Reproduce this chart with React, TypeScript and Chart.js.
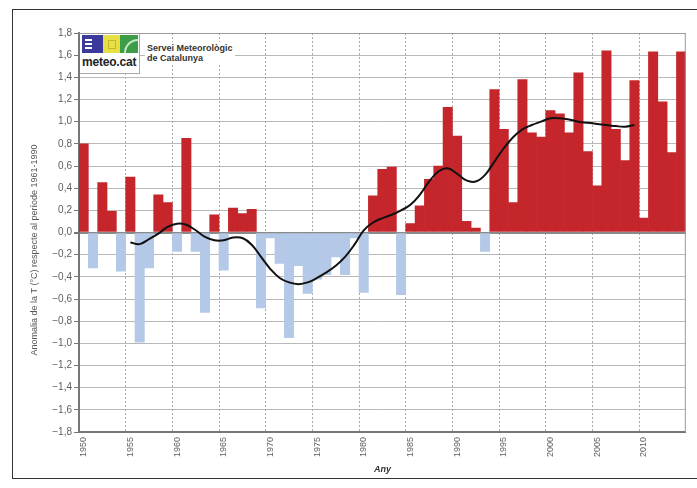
import React, { useEffect, useRef } from 'react';
import { Chart, registerables } from 'chart.js';

Chart.register(...registerables);

const years: string[] = [
  '1950','1951','1952','1953','1954','1955','1956','1957','1958','1959',
  '1960','1961','1962','1963','1964','1965','1966','1967','1968','1969',
  '1970','1971','1972','1973','1974','1975','1976','1977','1978','1979',
  '1980','1981','1982','1983','1984','1985','1986','1987','1988','1989',
  '1990','1991','1992','1993','1994','1995','1996','1997','1998','1999',
  '2000','2001','2002','2003','2004','2005','2006','2007','2008','2009',
  '2010','2011','2012','2013','2014',
];

const anomalies: number[] = [
  0.80, -0.32, 0.45, 0.19, -0.35, 0.50, -0.99, -0.32, 0.34, 0.27,
  -0.17, 0.85, -0.17, -0.72, 0.16, -0.34, 0.22, 0.17, 0.21, -0.68,
  -0.05, -0.28, -0.95, -0.30, -0.55, -0.42, -0.38, -0.22, -0.38, -0.05,
  -0.54, 0.33, 0.57, 0.59, -0.56, 0.08, 0.24, 0.48, 0.60, 1.13,
  0.87, 0.10, 0.04, -0.17, 1.29, 0.93, 0.27, 1.38, 0.90, 0.86,
  1.10, 1.07, 0.90, 1.44, 0.73, 0.42, 1.64, 0.93, 0.65, 1.37,
  0.13, 1.63, 1.18, 0.72, 1.63,
];

const smoothed: (number | null)[] = [
  null, null, null, null, null, -0.09, -0.105, -0.06, -0.01, 0.05,
  0.08, 0.07, 0.02, -0.04, -0.07, -0.07, -0.045, -0.05, -0.11, -0.22,
  -0.33, -0.41, -0.45, -0.466, -0.45, -0.41, -0.36, -0.30, -0.22, -0.11,
  0.02, 0.09, 0.13, 0.16, 0.20, 0.25, 0.34, 0.46, 0.55, 0.58,
  0.53, 0.47, 0.46, 0.52, 0.64, 0.76, 0.86, 0.93, 0.97, 1.00,
  1.03, 1.03, 1.02, 1.00, 0.99, 0.98, 0.97, 0.96, 0.955, 0.97,
  null, null, null, null, null,
];

const yTitle = 'Anomalia de la T (°C) respecte al període 1961-1990';
const xTitle = 'Any';

const RED = '#c4262b';
const BLUE = '#b3c9e7';
const FONT = '"Liberation Sans", Arial, sans-serif';

const framePlugin = {
  id: 'frame',
  beforeDraw(chart: any) {
    const { ctx, width, height } = chart;
    ctx.save();
    ctx.fillStyle = '#ffffff';
    ctx.fillRect(0, 0, width, height);
    ctx.restore();
  },
  afterDraw(chart: any) {
    const { ctx, chartArea: a } = chart;
    ctx.save();
    ctx.strokeStyle = '#9a9a9a';
    ctx.lineWidth = 1;
    ctx.beginPath();
    ctx.moveTo(a.left, a.top + 0.5);
    ctx.lineTo(a.right, a.top + 0.5);
    ctx.moveTo(a.right - 0.5, a.top);
    ctx.lineTo(a.right - 0.5, a.bottom);
    ctx.stroke();
    ctx.translate(35, 250);
    ctx.rotate(-Math.PI / 2);
    ctx.font = '9px ' + FONT;
    ctx.fillStyle = '#555555';
    ctx.textAlign = 'center';
    ctx.textBaseline = 'middle';
    ctx.fillText(yTitle, 0, 0);
    ctx.restore();
  },
};

export default function App() {
  const ref = useRef<HTMLCanvasElement | null>(null);

  useEffect(() => {
    if (!ref.current) return;
    const chart = new Chart(ref.current, {
      type: 'bar',
      data: {
        labels: years,
        datasets: [
          {
            type: 'line' as any,
            data: smoothed as any,
            borderColor: '#111111',
            borderWidth: 2,
            pointRadius: 0,
            tension: 0.4,
            fill: false,
            spanGaps: false,
            order: 0,
          } as any,
          {
            type: 'bar',
            data: anomalies,
            backgroundColor: anomalies.map((v) => (v >= 0 ? RED : BLUE)),
            borderWidth: 0,
            barPercentage: 1,
            categoryPercentage: 1,
            order: 1,
          },
        ],
      },
      options: {
        responsive: false,
        animation: false,
        devicePixelRatio: 1,
        layout: { padding: { top: 33, right: 9, left: 0, bottom: 0 } },
        plugins: {
          legend: { display: false },
          tooltip: { enabled: false },
          title: { display: false },
        },
        scales: {
          x: {
            type: 'category',
            offset: true,
            grid: {
              offset: true,
              drawTicks: false,
              color: (c: any) => (c.index % 5 === 0 ? '#a8a8a8' : 'rgba(0,0,0,0)'),
              lineWidth: 1,
            },
            border: { display: true, color: '#777777', width: 2, dash: [2, 2] },
            ticks: {
              autoSkip: false,
              minRotation: 90,
              maxRotation: 90,
              padding: 5,
              color: '#5e5e5e',
              font: { family: FONT, size: 9 },
              callback: (_v: any, i: number) => (Number(years[i]) % 5 === 0 ? years[i] : ''),
            },
            title: {
              display: true,
              text: xTitle,
              color: '#333333',
              font: { family: FONT, size: 9, style: 'italic', weight: 'bold' },
              padding: { top: 0, bottom: 13 },
            },
            afterFit: (s: any) => {
              s.height = 56;
            },
          },
          y: {
            min: -1.8,
            max: 1.8,
            grid: {
              color: (c: any) =>
                c.tick && Math.abs(c.tick.value) < 1e-6 ? '#8a8a8a' : '#b8b8b8',
              lineWidth: (c: any) => (c.tick && Math.abs(c.tick.value) < 1e-6 ? 2 : 1),
              drawTicks: true,
              tickLength: 5,
              tickColor: '#777777',
            },
            border: { display: true, color: '#777777', width: 2 },
            ticks: {
              stepSize: 0.2,
              padding: 2,
              color: '#5e5e5e',
              font: { family: FONT, size: 10 },
              callback: (v: any) => {
                const n = Math.round(Number(v) * 10) / 10;
                const s = Math.abs(n).toFixed(1).replace('.', ',');
                return n < 0 ? '\u2212' + s : s;
              },
            },
            afterFit: (s: any) => {
              s.width = 79;
            },
          },
        },
      } as any,
      plugins: [framePlugin],
    });
    return () => chart.destroy();
  }, []);

  return (
    <div
      style={{
        position: 'fixed',
        left: 0,
        top: 0,
        width: 697,
        height: 488,
        background: '#ffffff',
        overflow: 'hidden',
      }}
    >
      <canvas ref={ref} width={697} height={488} style={{ position: 'absolute', left: 0, top: 0 }} />
      <div
        style={{
          position: 'absolute',
          left: 12,
          top: 9,
          width: 700,
          height: 470,
          border: '1px solid #333',
          boxSizing: 'border-box',
          pointerEvents: 'none',
        }}
      />
      {/* logo */}
      <div
        style={{
          position: 'absolute',
          left: 80,
          top: 34,
          width: 59,
          height: 39,
          background: '#fff',
          borderRight: '1px solid #aaa',
          borderBottom: '1px solid #aaa',
        }}
      >
        <div style={{ position: 'absolute', left: 2, top: 1, width: 21, height: 18, background: '#3b3a9c' }}>
          <div style={{ position: 'absolute', left: 3, top: 4, width: 7, height: 2, background: '#fff' }} />
          <div style={{ position: 'absolute', left: 3, top: 8, width: 7, height: 2, background: '#fff' }} />
          <div style={{ position: 'absolute', left: 3, top: 12, width: 7, height: 2, background: '#fff' }} />
        </div>
        <div style={{ position: 'absolute', left: 23, top: 1, width: 17, height: 18, background: '#e6df45' }}>
          <div style={{ position: 'absolute', left: 5, top: 5, width: 6, height: 7, border: '1px solid #c9b82a' }} />
        </div>
        <div style={{ position: 'absolute', left: 40, top: 1, width: 18, height: 18, background: '#3c9c48', overflow: 'hidden' }}>
          <div
            style={{
              position: 'absolute',
              left: 4,
              top: 4,
              width: 16,
              height: 16,
              borderTop: '2px solid #bfe8c4',
              borderLeft: '2px solid #bfe8c4',
              borderRadius: '14px 0 0 0',
            }}
          />
        </div>
        <div
          style={{
            position: 'absolute',
            left: 2,
            top: 21,
            fontFamily: FONT,
            fontWeight: 'bold',
            fontSize: 12,
            color: '#222',
            letterSpacing: -0.2,
            lineHeight: '14px',
          }}
        >
          meteo.cat
        </div>
      </div>
      <div
        style={{
          position: 'absolute',
          left: 145,
          top: 42,
          padding: '1px 2px',
          background: '#fff',
          fontFamily: FONT,
          fontWeight: 'bold',
          fontSize: 9,
          lineHeight: '10px',
          color: '#333',
        }}
      >
        Servei Meteorològic
        <br />
        <span style={{ fontSize: 9 }}>de Catalunya</span>
      </div>
    </div>
  );
}
